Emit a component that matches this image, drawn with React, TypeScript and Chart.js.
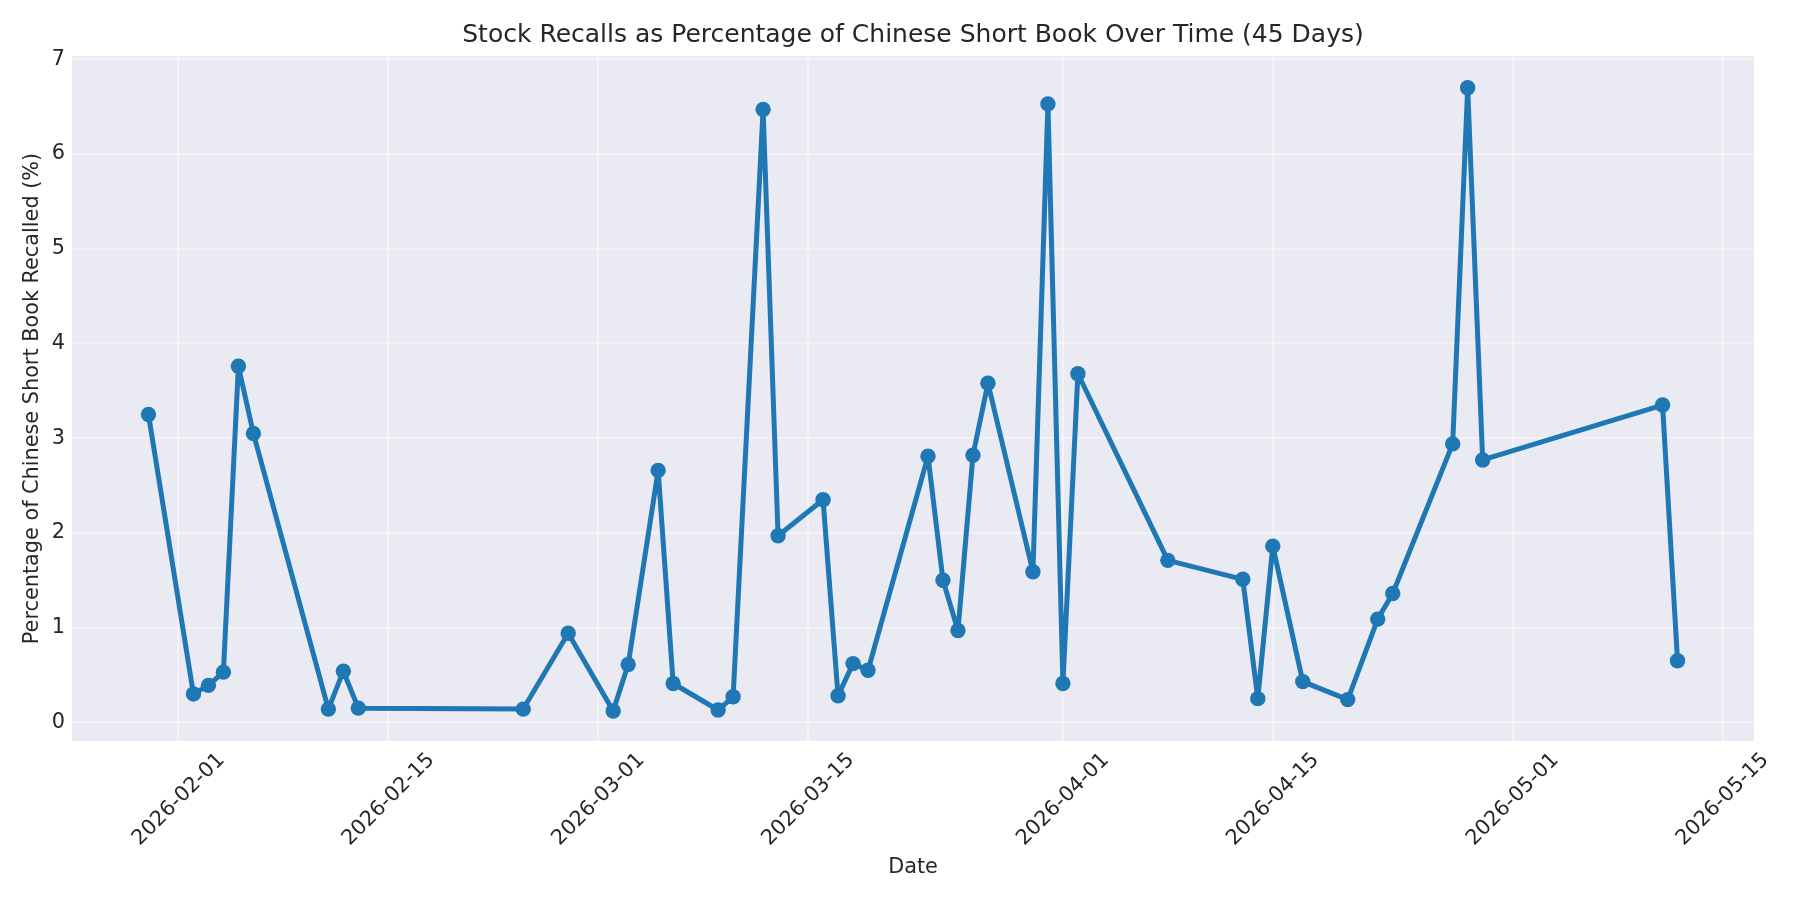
import { useEffect, useRef } from "react";
import { Chart, registerables } from "chart.js";

Chart.register(...registerables);

// recall dates and % of Chinese short book recalled
const recallDates = [
  "2026-01-30", "2026-02-02", "2026-02-03", "2026-02-04", "2026-02-05", "2026-02-06",
  "2026-02-11", "2026-02-12", "2026-02-13", "2026-02-24", "2026-02-27", "2026-03-02",
  "2026-03-03", "2026-03-05", "2026-03-06", "2026-03-09", "2026-03-10", "2026-03-12",
  "2026-03-13", "2026-03-16", "2026-03-17", "2026-03-18", "2026-03-19", "2026-03-23",
  "2026-03-24", "2026-03-25", "2026-03-26", "2026-03-27", "2026-03-30", "2026-03-31",
  "2026-04-01", "2026-04-02", "2026-04-08", "2026-04-13", "2026-04-14", "2026-04-15",
  "2026-04-17", "2026-04-20", "2026-04-22", "2026-04-23", "2026-04-27", "2026-04-28",
  "2026-04-29", "2026-05-11", "2026-05-12",
];
const recallPct = [
  3.25, 0.3, 0.39, 0.53, 3.76, 3.05,
  0.14, 0.54, 0.15, 0.14, 0.94, 0.12,
  0.61, 2.66, 0.41, 0.13, 0.27, 6.47,
  1.97, 2.35, 0.28, 0.62, 0.55, 2.81,
  1.5, 0.97, 2.82, 3.58, 1.59, 6.53,
  0.41, 3.68, 1.71, 1.51, 0.25, 1.86,
  0.43, 0.24, 1.09, 1.36, 2.94, 6.7,
  2.77, 3.35, 0.65,
];
const xTickDates = [
  "2026-02-01", "2026-02-15", "2026-03-01", "2026-03-15",
  "2026-04-01", "2026-04-15", "2026-05-01", "2026-05-15",
];
const yTicks = [0, 1, 2, 3, 4, 5, 6, 7];

const DAY = 86400000;
const BASE = Date.UTC(2026, 1, 1);
const toDay = (s: string) => (Date.parse(s + "T00:00:00Z") - BASE) / DAY;
const fromDay = (d: number) => new Date(BASE + Math.round(d) * DAY).toISOString().slice(0, 10);

const TEXT = "#262626";
const FONT = "'DejaVu Sans', sans-serif";
const GRID = "rgba(255,255,255,0.38)";

const plotBg = {
  id: "plotBg",
  beforeDraw(chart: any) {
    const { ctx, chartArea } = chart;
    if (!chartArea) return;
    ctx.save();
    ctx.fillStyle = "#EAEAF2";
    ctx.fillRect(chartArea.left, chartArea.top, chartArea.right - chartArea.left, chartArea.bottom - chartArea.top);
    ctx.restore();
  },
};

const App = () => {
  const chartRef = useRef<HTMLCanvasElement>(null);

  useEffect(() => {
    document.body.style.margin = "0";
    if (!chartRef.current) return;
    const days = recallDates.map(toDay);
    const chartInstance = new Chart(chartRef.current, {
      type: "line",
      data: {
        datasets: [
          {
            label: "Recall %",
            data: days.map((d, i) => ({ x: d, y: recallPct[i] })),
            borderColor: "#1f77b4",
            backgroundColor: "#1f77b4",
            borderWidth: 5,
            borderJoinStyle: "round",
            borderCapStyle: "round",
            pointRadius: 7.7,
            pointBorderWidth: 0,
            pointBackgroundColor: "#1f77b4",
            tension: 0,
          },
        ],
      },
      options: {
        animation: false,
        responsive: false,
        devicePixelRatio: 1,
        layout: { padding: { top: 0, left: 0, right: 46, bottom: 0 } },
        plugins: {
          legend: { display: false },
          tooltip: { enabled: false },
          title: {
            display: true,
            fullSize: false,
            text: "Stock Recalls as Percentage of Chinese Short Book Over Time (45 Days)",
            color: TEXT,
            font: { family: FONT, size: 25, weight: "normal" },
            padding: { top: 20, bottom: 6 },
          },
        },
        scales: {
          x: {
            type: "linear",
            min: -7.1,
            max: 105.1,
            afterBuildTicks: (axis: any) => {
              axis.ticks = xTickDates.map((d) => ({ value: toDay(d) }));
            },
            afterFit: (axis: any) => {
              axis.height = 159;
            },
            ticks: {
              autoSkip: false,
              maxRotation: 45,
              minRotation: 45,
              labelOffset: 43,
              padding: 7,
              color: TEXT,
              font: { family: FONT, size: 20.8 },
              callback: (v: any) => fromDay(Number(v)),
            },
            grid: { color: GRID, lineWidth: 2, drawTicks: false },
            border: { display: false },
            title: {
              display: true,
              text: "Date",
              color: TEXT,
              font: { family: FONT, size: 20.8 },
              padding: { top: 0, bottom: 20 },
            },
          },
          y: {
            min: -0.197,
            max: 7.035,
            afterBuildTicks: (axis: any) => {
              axis.ticks = yTicks.map((v) => ({ value: v }));
            },
            afterFit: (axis: any) => {
              axis.width = 72;
            },
            ticks: {
              padding: 7,
              color: TEXT,
              font: { family: FONT, size: 20.8 },
            },
            grid: { color: GRID, lineWidth: 2, drawTicks: false },
            border: { display: false },
            title: {
              display: true,
              text: "Percentage of Chinese Short Book Recalled (%)",
              color: TEXT,
              font: { family: FONT, size: 20.8 },
              padding: { top: 20, bottom: 0 },
            },
          },
        },
      },
      plugins: [plotBg],
    });

    return () => {
      chartInstance.destroy();
    };
  }, []);

  return (
    <div style={{ width: 1800, height: 900 }}>
      <canvas ref={chartRef} width={1800} height={900}></canvas>
    </div>
  );
};

export default App;
